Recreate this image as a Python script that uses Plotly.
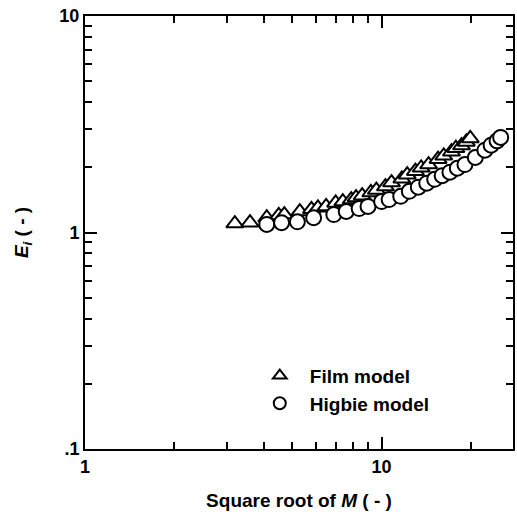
import plotly.graph_objects as go

film_x = [3.2, 3.6, 4.1, 4.5, 4.7, 5.3, 5.8, 6.1, 6.5, 7.0, 7.4, 7.9, 8.2, 8.6, 9.2, 9.6,
          10.3, 10.8, 11.7, 12.2, 13.0, 13.6, 14.4, 15.5, 16.2, 17.2, 17.8, 18.6, 19.3, 19.9]
film_y = [1.10, 1.11, 1.17, 1.20, 1.21, 1.25, 1.28, 1.30, 1.32, 1.37, 1.39, 1.42, 1.45, 1.48, 1.53, 1.57,
          1.63, 1.70, 1.77, 1.85, 1.92, 1.99, 2.06, 2.18, 2.26, 2.36, 2.45, 2.52, 2.62, 2.72]

higbie_x = [4.1, 4.6, 5.2, 5.9, 6.9, 7.6, 8.4, 9.0, 10.0, 10.6, 11.6, 12.4, 13.3, 14.2, 15.1,
            16.0, 17.0, 18.0, 19.1, 20.7, 22.3, 23.4, 24.5, 25.2]
higbie_y = [1.09, 1.11, 1.12, 1.17, 1.21, 1.25, 1.29, 1.32, 1.39, 1.42, 1.47, 1.55, 1.62, 1.69, 1.76,
            1.83, 1.90, 1.98, 2.06, 2.22, 2.40, 2.53, 2.65, 2.75]

x_minor = [2, 3, 4, 5, 6, 7, 8, 9, 20, 30]
y_minor = [0.2, 0.3, 0.4, 0.5, 0.6, 0.7, 0.8, 0.9, 2, 3, 4, 5, 6, 7, 8, 9]
tick_alias = {"0.1": ".1"}

X_RANGE = [0, 1.443]
Y_RANGE = [-1, 1]
FONT = "Liberation Sans, Arial, sans-serif"
TICKC = "black"

fig = go.Figure()
# invisible trace that carries the minor-tick overlay axes
fig.add_trace(go.Scatter(
    x=film_x, y=film_y, xaxis="x2", yaxis="y2", mode="markers",
    marker=dict(opacity=0), showlegend=False, hoverinfo="skip",
))
fig.add_trace(go.Scatter(
    x=film_x, y=film_y, mode="markers", name="Film model",
    marker=dict(symbol="triangle-up", size=15, color="white",
                line=dict(color="black", width=2)),
))
fig.add_trace(go.Scatter(
    x=higbie_x, y=higbie_y, mode="markers", name="Higbie model",
    marker=dict(symbol="circle", size=15, color="white",
                line=dict(color="black", width=2)),
))

axis_common = dict(
    type="log", showgrid=False, zeroline=False,
    showline=True, linecolor="black", linewidth=2, mirror="allticks",
    ticks="inside", ticklen=12, tickwidth=2, tickcolor=TICKC,
    tickfont=dict(family=FONT, size=18, color="black", weight="bold"),
    tickmode="linear", tick0=0, dtick=1, labelalias=tick_alias,
)
minor_common = dict(
    type="log", showgrid=False, zeroline=False, showline=False,
    mirror="allticks", ticks="inside", ticklen=7, tickwidth=1.5,
    tickcolor=TICKC, showticklabels=False, tickmode="array",
)

fig.update_layout(
    xaxis=dict(**axis_common, range=X_RANGE,
               title=dict(text="Square root of <i>M</i> ( - )",
                          font=dict(family=FONT, size=19, color="black", weight="bold"),
                          standoff=18)),
    yaxis=dict(**axis_common, range=Y_RANGE,
               title=dict(text="<i>E</i><sub><i>i</i></sub> ( - )",
                          font=dict(family=FONT, size=19, color="black", weight="bold"),
                          standoff=26)),
    xaxis2=dict(**minor_common, range=X_RANGE, tickvals=x_minor,
                overlaying="x", anchor="y2", side="bottom"),
    yaxis2=dict(**minor_common, range=Y_RANGE, tickvals=y_minor,
                overlaying="y", anchor="x2", side="left"),
    width=517, height=517,
    margin=dict(l=85, r=2, t=16, b=68),
    paper_bgcolor="white", plot_bgcolor="white",
    showlegend=True,
    legend=dict(x=0.385, y=0.213, xanchor="left", yanchor="top",
                bgcolor="rgba(0,0,0,0)", borderwidth=0,
                itemsizing="constant", itemwidth=50,
                font=dict(family=FONT, size=19, color="black", weight="bold")),
)

fig.write_html("out.html")
